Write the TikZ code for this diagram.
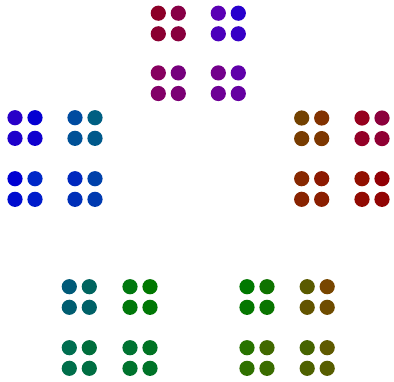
\documentclass[tikz,border=0pt]{standalone}
\usepackage{xcolor}
\usepackage{tikz}
\definecolor{cTopA}{HTML}{8C0028}\definecolor{cTopAb}{HTML}{870046}
\definecolor{cTopB}{HTML}{5A00B4}\definecolor{cTopBb}{HTML}{2800CD}
\definecolor{cTopC}{HTML}{87005F}\definecolor{cTopCb}{HTML}{76007D}
\definecolor{cTopD}{HTML}{73008C}\definecolor{cTopDb}{HTML}{5F00AA}
\definecolor{cLftA}{HTML}{2800C8}\definecolor{cLftAb}{HTML}{0500D2}
\definecolor{cLftB}{HTML}{004BA0}\definecolor{cLftBb}{HTML}{005F82}
\definecolor{cLftC}{HTML}{0000D2}\definecolor{cLftCb}{HTML}{0028C8}
\definecolor{cLftD}{HTML}{0028BE}\definecolor{cLftDb}{HTML}{0041AA}
\definecolor{cBlA}{HTML}{005A78}\definecolor{cBlAb}{HTML}{00645F}
\definecolor{cBlB}{HTML}{00780F}\definecolor{cBlBb}{HTML}{007800}
\definecolor{cBlC}{HTML}{006E50}\definecolor{cBlCb}{HTML}{006E3C}
\definecolor{cBlD}{HTML}{007332}\definecolor{cBlDb}{HTML}{007323}
\definecolor{cBrA}{HTML}{007800}\definecolor{cBrAb}{HTML}{0F7300}
\definecolor{cBrB}{HTML}{5A5A00}\definecolor{cBrBb}{HTML}{784600}
\definecolor{cBrC}{HTML}{287300}\definecolor{cBrCb}{HTML}{416900}
\definecolor{cBrD}{HTML}{466400}\definecolor{cBrDb}{HTML}{5F5A00}
\definecolor{cRgtA}{HTML}{734100}\definecolor{cRgtAb}{HTML}{823200}
\definecolor{cRgtB}{HTML}{96001E}\definecolor{cRgtBb}{HTML}{8C003C}
\definecolor{cRgtC}{HTML}{872800}\definecolor{cRgtCb}{HTML}{8C1900}
\definecolor{cRgtD}{HTML}{910F00}\definecolor{cRgtDb}{HTML}{910005}

% one 2x2 block of dots: #1,#2 = centre, #3 = left colour, #4 = right colour
\newcommand{\dotquad}[4]{%
  \fill[#3]       (#1-10,#2-10.3) circle (7.6pt);
  \fill[#4]       (#1+10,#2-10.3) circle (7.6pt);
  \fill[#3!70!#4] (#1-10,#2+10.3) circle (7.6pt);
  \fill[#3!30!#4] (#1+10,#2+10.3) circle (7.6pt);}

\begin{document}
\begin{tikzpicture}[x=1pt,y=-1pt]
\useasboundingbox (0,0) rectangle (394,381);

% =====================================================================
% TOP CLUSTER
% =====================================================================
\dotquad{168.3}{23.5}{cTopA}{cTopAb}
\dotquad{228.3}{23.5}{cTopB}{cTopBb}
\dotquad{168.3}{83.2}{cTopC}{cTopCb}
\dotquad{228.3}{83.2}{cTopD}{cTopDb}

% =====================================================================
% LEFT AND RIGHT CLUSTERS
% =====================================================================
\dotquad{25}{128}{cLftA}{cLftAb}
\dotquad{85}{128}{cLftB}{cLftBb}
\dotquad{25}{189}{cLftC}{cLftCb}
\dotquad{85}{189}{cLftD}{cLftDb}

\dotquad{311.7}{128.3}{cRgtA}{cRgtAb}
\dotquad{372}{128.3}{cRgtB}{cRgtBb}
\dotquad{311.7}{189}{cRgtC}{cRgtCb}
\dotquad{372}{189}{cRgtD}{cRgtDb}

% =====================================================================
% BOTTOM CLUSTERS
% =====================================================================
\dotquad{79.3}{297}{cBlA}{cBlAb}
\dotquad{140}{297}{cBlB}{cBlBb}
\dotquad{79.3}{358}{cBlC}{cBlCb}
\dotquad{140}{358}{cBlD}{cBlDb}

\dotquad{257}{297}{cBrA}{cBrAb}
\dotquad{317.2}{297}{cBrB}{cBrBb}
\dotquad{257}{358}{cBrC}{cBrCb}
\dotquad{317.2}{358}{cBrD}{cBrDb}

\end{tikzpicture}
\end{document}
